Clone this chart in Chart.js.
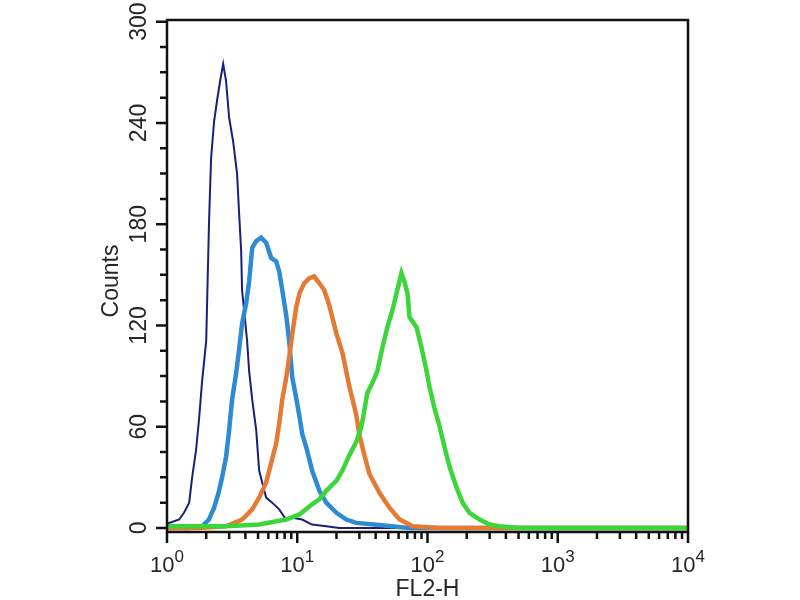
<!DOCTYPE html>
<html>
<head>
<meta charset="utf-8">
<title>FL2-H histogram</title>
<script src="https://cdn.jsdelivr.net/npm/chart.js@4.4.1/dist/chart.umd.min.js"></script>
<style>
  body { margin: 0; background: #fff; }
  canvas { display: block; }
</style>
</head>
<body>
<canvas id="histChart" width="800" height="600"></canvas>
<script>
// Histogram channels (FL2-H) and counts
const navyX = [1.0, 1.04, 1.24, 1.35, 1.48, 1.56, 1.67, 1.76, 1.86, 2.0, 2.10, 2.18, 2.30, 2.42, 2.56, 2.70, 2.84, 3.0, 3.22, 3.45, 3.58, 3.71, 3.77, 4.12, 4.27, 4.51, 4.84, 5.10, 5.38, 5.77, 6.42, 7.27, 8.2, 9.2, 10.9, 13.0, 16.7, 21, 10000];
const navyCounts = [3, 3, 5, 9, 15, 30, 46, 64, 87, 111, 180, 219, 241, 253, 265, 275, 265, 243, 229, 210, 186, 164, 141, 111, 93, 76, 58, 34, 27, 18, 15, 11, 5, 6, 5, 2, 1, 0, 0];

const blueX = [1.0, 1.48, 1.86, 2.10, 2.30, 2.51, 2.65, 2.84, 3.0, 3.16, 3.40, 3.58, 3.77, 4.05, 4.27, 4.51, 4.84, 5.28, 5.77, 6.31, 6.89, 7.27, 7.67, 8.23, 8.67, 9.16, 9.82, 10.4, 10.9, 11.9, 13.0, 14.8, 16.7, 20.0, 23.8, 28.4, 39, 53, 72, 10000];
const blueCounts = [0, 0, 1, 5, 12, 22, 30, 42, 58, 76, 92, 106, 121, 133, 146, 166, 170, 172, 169, 160, 158, 152, 141, 126, 111, 89, 77, 66, 56, 46, 34, 22, 15, 9, 5, 3, 2, 1, 0, 0];

const orangeX = [1.0, 1.76, 2.84, 3.77, 4.51, 5.10, 5.77, 6.09, 6.89, 7.27, 7.67, 8.23, 8.67, 9.16, 9.82, 10.4, 11.3, 12.4, 13.5, 14.8, 16.1, 17.6, 20.0, 22.2, 25.1, 28.4, 30.0, 32.8, 35.8, 42.7, 51, 61, 77, 124, 10000];
const orangeCounts = [0, 0, 1, 5, 11, 18, 27, 34, 50, 62, 76, 89, 101, 115, 131, 139, 145, 148, 149, 145, 141, 132, 115, 104, 84, 67, 55, 43, 32, 21, 12, 5, 1, 0, 0];

const greenX = [1.0, 2.84, 5.10, 8.23, 10.4, 13.0, 14.8, 16.7, 20.0, 22.2, 25.1, 28.4, 31.1, 32.8, 34.5, 37.8, 41.2, 45.1, 49.2, 53.8, 57.8, 63.1, 66.5, 70.2, 72.7, 82.3, 89.9, 98.3, 104, 113, 124, 135, 148, 167, 186, 210, 251, 300, 358, 510, 10000];
const greenCounts = [1, 1, 2, 5, 8, 14, 17, 22, 28, 34, 43, 51, 60, 70, 80, 86, 93, 107, 119, 129, 139, 151, 146, 139, 125, 119, 107, 93, 83, 71, 60, 48, 36, 24, 15, 9, 5, 2, 1, 0, 0];

// Axis ticks
const yTicks = [0, 60, 120, 180, 240, 300];
const xDecades = [1, 10, 100, 1000, 10000];
const xExponents = ['0', '1', '2', '3', '4'];

const FONT = "'Liberation Sans', Arial, Helvetica, sans-serif";
const INK = '#262626';

function points(xs, ys) {
    return xs.map((x, i) => ({ x: x, y: ys[i] }));
}

// Frame, ticks and labels in the FlowJo style
const flowAxes = {
    id: 'flowAxes',
    afterDatasetsDraw(chart) {
        const { ctx, chartArea: a, scales } = chart;
        const xs = scales.x, ys = scales.y;
        ctx.save();
        ctx.strokeStyle = '#111';
        ctx.lineWidth = 2.5;
        ctx.strokeRect(a.left, a.top, a.right - a.left, a.bottom - a.top);

        // y ticks: major every 60, minor every 15
        ctx.beginPath();
        for (let v = 0; v <= 300; v += 15) {
            const py = ys.getPixelForValue(v);
            const len = v % 60 === 0 ? 11 : 7;
            ctx.moveTo(a.left, py);
            ctx.lineTo(a.left - len, py);
        }
        // x ticks: decades long, 2..9 short
        xDecades.forEach((d, i) => {
            const px = xs.getPixelForValue(d);
            ctx.moveTo(px, a.bottom);
            ctx.lineTo(px, a.bottom + 11);
            if (i < xDecades.length - 1) {
                for (let m = 2; m <= 9; m++) {
                    const mx = xs.getPixelForValue(m * d);
                    ctx.moveTo(mx, a.bottom);
                    ctx.lineTo(mx, a.bottom + 7);
                }
            }
        });
        ctx.stroke();

        ctx.fillStyle = INK;
        // y tick labels, rotated
        ctx.font = '23px ' + FONT;
        ctx.textAlign = 'center';
        ctx.textBaseline = 'alphabetic';
        yTicks.forEach(v => {
            const py = ys.getPixelForValue(v);
            ctx.save();
            ctx.translate(a.left - 21, py);
            ctx.rotate(-Math.PI / 2);
            ctx.fillText(String(v), 0, 0);
            ctx.restore();
        });

        // x tick labels: 10 with superscript exponent
        ctx.textAlign = 'left';
        xDecades.forEach((d, i) => {
            const px = xs.getPixelForValue(d);
            ctx.font = '22px ' + FONT;
            const wBase = ctx.measureText('10').width;
            ctx.font = '17px ' + FONT;
            const wExp = ctx.measureText(xExponents[i]).width;
            const x0 = px - (wBase + wExp) / 2;
            ctx.font = '22px ' + FONT;
            ctx.fillText('10', x0, a.bottom + 40);
            ctx.font = '17px ' + FONT;
            ctx.fillText(xExponents[i], x0 + wBase, a.bottom + 30);
        });

        // axis titles
        ctx.font = '23px ' + FONT;
        ctx.textAlign = 'center';
        ctx.fillText('FL2-H', (a.left + a.right) / 2, a.bottom + 64);
        ctx.save();
        ctx.translate(118, (a.top + a.bottom) / 2 + 5);
        ctx.rotate(-Math.PI / 2);
        ctx.fillText('Counts', 0, 0);
        ctx.restore();
        ctx.restore();
    }
};

const line = (data, color, width) => ({
    data: data,
    borderColor: color,
    borderWidth: width,
    pointRadius: 0,
    fill: false,
    tension: 0
});

new Chart(document.getElementById('histChart'), {
    type: 'line',
    data: {
        datasets: [
            line(points(greenX, greenCounts), '#3ad63a', 4.5),
            line(points(orangeX, orangeCounts), '#e57a35', 4.5),
            line(points(blueX, blueCounts), '#2e8bd3', 4.5),
            line(points(navyX, navyCounts), '#1b1f7a', 2)
        ]
    },
    options: {
        responsive: false,
        animation: false,
        events: [],
        layout: { padding: { top: 20, right: 112, left: 0, bottom: 0 } },
        plugins: {
            legend: { display: false },
            tooltip: { enabled: false }
        },
        scales: {
            x: {
                type: 'logarithmic',
                min: 1,
                max: 10000,
                grid: { display: false },
                border: { display: false },
                ticks: { display: false },
                afterFit: s => { s.height = 68; }
            },
            y: {
                min: -2.4,
                max: 301,
                grid: { display: false },
                border: { display: false },
                ticks: { display: false },
                afterFit: s => { s.width = 167; }
            }
        }
    },
    plugins: [flowAxes]
});
</script>
</body>
</html>
